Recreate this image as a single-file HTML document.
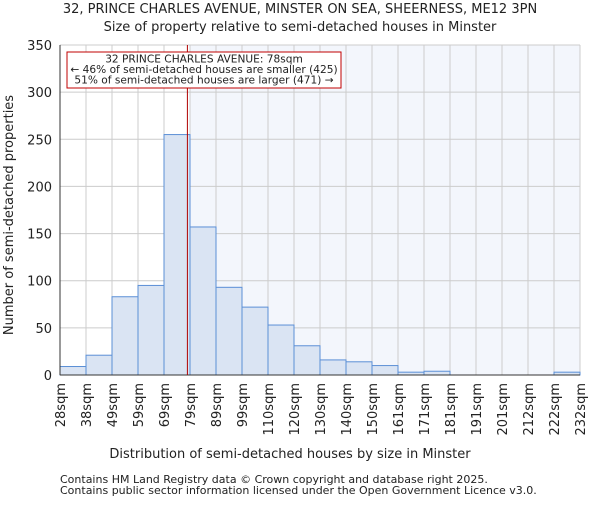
<!DOCTYPE html>
<html><head><meta charset="utf-8"><style>
body{margin:0;background:#fff}
svg text{font-family:"DejaVu Sans","Liberation Sans",sans-serif;fill:#222}
</style></head><body>
<svg id="chart" width="600" height="500" xmlns="http://www.w3.org/2000/svg">
<text x="300" y="13" font-size="13" text-anchor="middle">32, PRINCE CHARLES AVENUE, MINSTER ON SEA, SHEERNESS, ME12 3PN</text>
<text x="300" y="31" font-size="13" text-anchor="middle">Size of property relative to semi-detached houses in Minster</text>
<text transform="translate(13,215) rotate(-90)" font-size="13" text-anchor="middle">Number of semi-detached properties</text>
<text x="290" y="458" font-size="13" text-anchor="middle">Distribution of semi-detached houses by size in Minster</text>
<text x="60" y="483" font-size="11">Contains HM Land Registry data © Crown copyright and database right 2025.</text>
<text x="60" y="494" font-size="11">Contains public sector information licensed under the Open Government Licence v3.0.</text>
<g id="plot"></g>
</svg>
<script>
const categories=["28sqm","38sqm","49sqm","59sqm","69sqm","79sqm","89sqm","99sqm","110sqm","120sqm","130sqm","140sqm","150sqm","161sqm","171sqm","181sqm","191sqm","201sqm","212sqm","222sqm","232sqm"];
const counts=[9,21,83,95,255,157,93,72,53,31,16,14,10,3,4,0,0,0,0,3];
const yTicks=[0,50,100,150,200,250,300,350];
const markerBin=4.9;
const NS="http://www.w3.org/2000/svg";
const L=60,R=580,T=45,B=375,yMax=350;
const nb=counts.length;
const x=i=>L+(R-L)*i/nb;
const y=v=>B-(B-T)*v/yMax;
const g=document.getElementById('plot');
function mk(tag,attrs){const e=document.createElementNS(NS,tag);for(const k in attrs)e.setAttribute(k,attrs[k]);g.appendChild(e);return e;}
const bg=mk('rect',{x:x(5),y:T,width:R-x(5),height:B-T,fill:'#eef2fb',opacity:0.7});


for(let i=0;i<=nb;i++){const l=mk('line',{x1:x(i),x2:x(i),y1:T,y2:B,stroke:'#ccc','stroke-width':1});

}
yTicks.forEach(v=>{const l=mk('line',{x1:L,x2:R,y1:y(v),y2:y(v),stroke:'#ccc','stroke-width':1});


const t=mk('text',{x:L-8,y:y(v)+5,'font-size':13,'text-anchor':'end'});t.textContent=v;

});
counts.forEach((c,i)=>{const r=mk('rect',{x:x(i),y:y(c),width:x(i+1)-x(i),height:B-y(c),fill:'#dae4f3',stroke:'#5b8fd6','stroke-width':1});

});
categories.forEach((c,i)=>{const t=mk('text',{'font-size':13,'text-anchor':'end',transform:`translate(${x(i)+5},${B+8}) rotate(-90)`});t.textContent=c;

});
const ax=mk('line',{x1:L,x2:L,y1:T,y2:B,stroke:'#333'});


const bx=mk('line',{x1:L,x2:R,y1:B,y2:B,stroke:'#333'});


const ml=mk('line',{x1:x(markerBin),x2:x(markerBin),y1:T,y2:B,stroke:'#b00000','stroke-width':1});


const box=mk('rect',{x:67,y:52,width:274,height:36,fill:'#fff',stroke:'#c00000','stroke-width':1});


["32 PRINCE CHARLES AVENUE: 78sqm","← 46% of semi-detached houses are smaller (425)","51% of semi-detached houses are larger (471) →"].forEach((s,i)=>{const t=mk('text',{x:204,y:62.5+i*10.5,'font-size':10.6,'text-anchor':'middle'});t.textContent=s;

});
</script>
</body></html>
